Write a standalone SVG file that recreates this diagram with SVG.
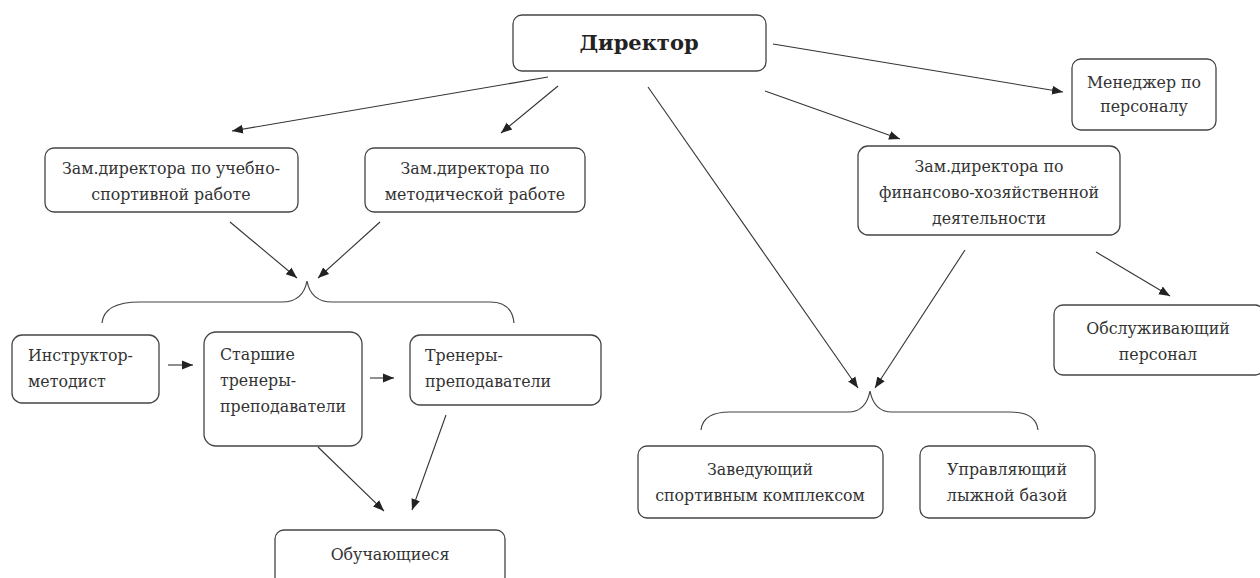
<svg xmlns="http://www.w3.org/2000/svg" width="1260" height="578" viewBox="0 0 1260 578">
<style>
.box{fill:#fff;stroke:#444;stroke-width:1.3}
.t{font-family:"DejaVu Serif","Liberation Serif",serif;font-size:15.8px;fill:#333}
.c{text-anchor:middle}
.ln{stroke:#333;stroke-width:1.1;fill:none}
.br{stroke:#444;stroke-width:1.2;fill:none}
</style>
<defs>
<marker id="ah" viewBox="0 0 10 10" refX="10" refY="5" markerWidth="11" markerHeight="11" markerUnits="userSpaceOnUse" orient="auto">
<path d="M0,1 L10,5 L0,9 Z" fill="#222"/>
</marker>
</defs>
<rect width="1260" height="578" fill="#fff"/>

<g id="connectors">
<line class="ln" x1="548" y1="77" x2="232" y2="131" marker-end="url(#ah)"/>
<line class="ln" x1="558" y1="86" x2="501" y2="133" marker-end="url(#ah)"/>
<line class="ln" x1="648" y1="87" x2="858" y2="388" marker-end="url(#ah)"/>
<line class="ln" x1="765" y1="91" x2="900" y2="139" marker-end="url(#ah)"/>
<line class="ln" x1="773" y1="44" x2="1063" y2="92" marker-end="url(#ah)"/>
<line class="ln" x1="965" y1="250" x2="875" y2="388" marker-end="url(#ah)"/>
<line class="ln" x1="1096" y1="252" x2="1170" y2="296" marker-end="url(#ah)"/>
<line class="ln" x1="230" y1="222" x2="297" y2="278" marker-end="url(#ah)"/>
<line class="ln" x1="380" y1="222" x2="318" y2="278" marker-end="url(#ah)"/>
<line class="ln" x1="168" y1="365" x2="193" y2="365" marker-end="url(#ah)"/>
<line class="ln" x1="370" y1="378" x2="394" y2="378" marker-end="url(#ah)"/>
<line class="ln" x1="318" y1="447" x2="384" y2="511" marker-end="url(#ah)"/>
<line class="ln" x1="446" y1="415" x2="412" y2="510" marker-end="url(#ah)"/>
<path class="br" d="M102,323 Q104,302 140,302 L282,302 Q303,302 307,281 Q311,302 332,302 L490,302 Q512,302 514,323"/>
<path class="br" d="M701,430 Q703,412 730,412 L848,412 Q866,412 870,391 Q874,412 892,412 L1010,412 Q1036,412 1038,430"/>
</g>

<g id="director">
<rect class="box" x="513" y="15" width="253" height="56" rx="9"/>
<text class="t c" x="639" y="50" style="font-size:21px;font-weight:bold;fill:#222">Директор</text>
</g>
<g id="zam-uchebno">
<rect class="box" x="45" y="148" width="253" height="64" rx="9"/>
<text class="t c" x="171" y="174">Зам.директора по учебно-</text>
<text class="t c" x="171" y="200">спортивной работе</text>
</g>
<g id="zam-metod">
<rect class="box" x="365" y="148" width="220" height="64" rx="9"/>
<text class="t c" x="475" y="174">Зам.директора по</text>
<text class="t c" x="475" y="200">методической работе</text>
</g>
<g id="manager">
<rect class="box" x="1072" y="59" width="144" height="71" rx="9"/>
<text class="t c" x="1144" y="88">Менеджер по</text>
<text class="t c" x="1144" y="112">персоналу</text>
</g>
<g id="zam-fin">
<rect class="box" x="858" y="146" width="262" height="89" rx="10"/>
<text class="t c" x="989" y="172">Зам.директора по</text>
<text class="t c" x="989" y="198">финансово-хозяйственной</text>
<text class="t c" x="989" y="224">деятельности</text>
</g>
<g id="obsl">
<rect class="box" x="1054" y="305" width="210" height="70" rx="9"/>
<text class="t c" x="1158" y="334">Обслуживающий</text>
<text class="t c" x="1158" y="360">персонал</text>
</g>
<g id="instr">
<rect class="box" x="12" y="335" width="147" height="68" rx="10"/>
<text class="t" x="28" y="361">Инструктор-</text>
<text class="t" x="28" y="387">методист</text>
</g>
<g id="starshie">
<rect class="box" x="204" y="332" width="158" height="114" rx="12"/>
<text class="t" x="220" y="360">Старшие</text>
<text class="t" x="220" y="386">тренеры-</text>
<text class="t" x="220" y="412">преподаватели</text>
</g>
<g id="trenery">
<rect class="box" x="410" y="335" width="191" height="70" rx="10"/>
<text class="t" x="425" y="361">Тренеры-</text>
<text class="t" x="425" y="387">преподаватели</text>
</g>
<g id="obuch">
<rect class="box" x="275" y="530" width="230" height="56" rx="9"/>
<text class="t c" x="390" y="560">Обучающиеся</text>
</g>
<g id="zaved">
<rect class="box" x="638" y="446" width="245" height="72" rx="9"/>
<text class="t c" x="760" y="475">Заведующий</text>
<text class="t c" x="760" y="501">спортивным комплексом</text>
</g>
<g id="upr">
<rect class="box" x="920" y="446" width="175" height="72" rx="9"/>
<text class="t c" x="1007" y="475">Управляющий</text>
<text class="t c" x="1007" y="501">лыжной базой</text>
</g>
</svg>
